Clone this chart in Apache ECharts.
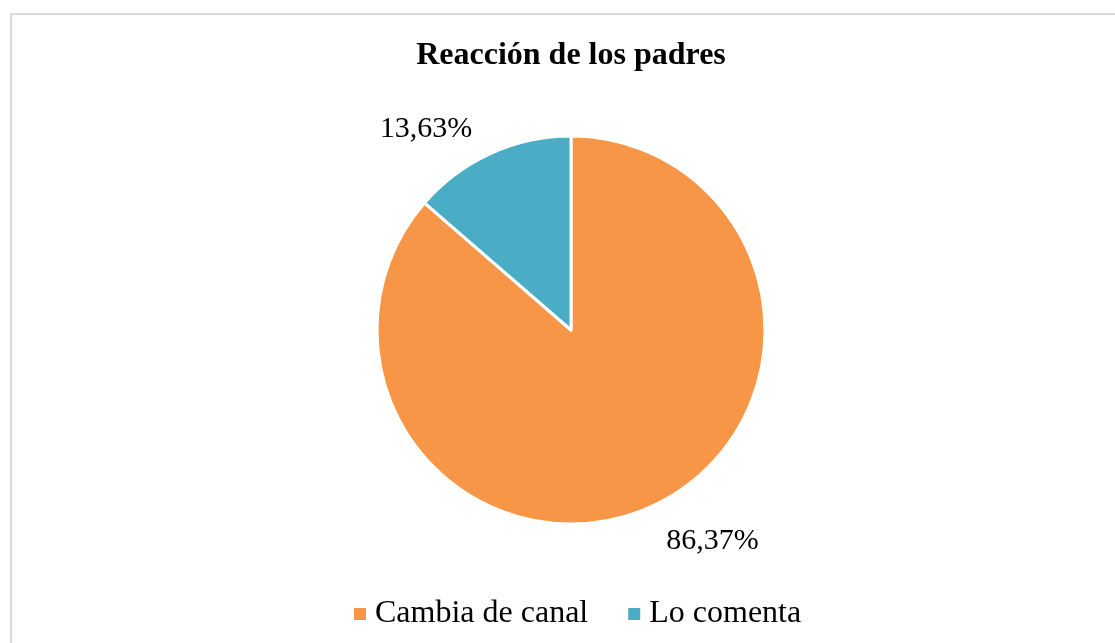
<!DOCTYPE html>
<html>
<head>
<meta charset="utf-8">
<script src="https://cdn.jsdelivr.net/npm/echarts@6/dist/echarts.min.js"></script>
<style>
  html, body { margin: 0; padding: 0; background: #fff; overflow: hidden; }
  #frame { position: absolute; left: 10px; top: 13px; width: 1120px; height: 650px; border: 2px solid #d9d9d9; box-sizing: border-box; }
  #chart { position: absolute; left: 0; top: 0; width: 1142px; height: 643px; }
</style>
</head>
<body>
<div id="frame"></div>
<div id="chart"></div>
<script>
// datos de la gráfica
const categories = ['Cambia de canal', 'Lo comenta']
const values = [86.37, 13.63]
const labels = ['86,37%', '13,63%']
const colors = ['#F79646', '#4BACC6']
const lineLengths = [38, 27]
const labelShift = [-6, -2]

const font = '"Liberation Serif", "Times New Roman", serif'

const chart = echarts.init(document.getElementById('chart'))
const option = {
  animation: false,
  title: {
    text: 'Reacción de los padres',
    left: 'center',
    top: 35,
    textStyle: { fontFamily: font, fontWeight: 'bold', fontSize: 32, color: '#000' }
  },
  legend: {
    bottom: 8,
    left: 347,
    icon: 'rect',
    itemWidth: 14,
    itemHeight: 14,
    itemGap: 38,
    data: categories,
    textStyle: { fontFamily: font, fontSize: 32, color: '#000', padding: [0, 0, 0, 3] }
  },
  series: [
    {
      type: 'pie',
      center: [571, 330],
      radius: 194,
      startAngle: 90,
      clockwise: true,
      data: categories.map((name, i) => ({
        name,
        value: values[i],
        itemStyle: { color: colors[i] },
        label: { formatter: labels[i] },
        labelLine: { length: lineLengths[i] }
      })),
      itemStyle: { borderColor: '#fff', borderWidth: 3 },
      label: {
        show: true,
        position: 'outside',
        fontFamily: font,
        fontSize: 30,
        color: '#000'
      },
      labelLine: { show: false, length: 30, length2: 0 },
      labelLayout: (p) => ({ dx: labelShift[p.dataIndex] }),
      emphasis: { disabled: true }
    }
  ]
}
option && chart.setOption(option)
</script>
</body>
</html>
